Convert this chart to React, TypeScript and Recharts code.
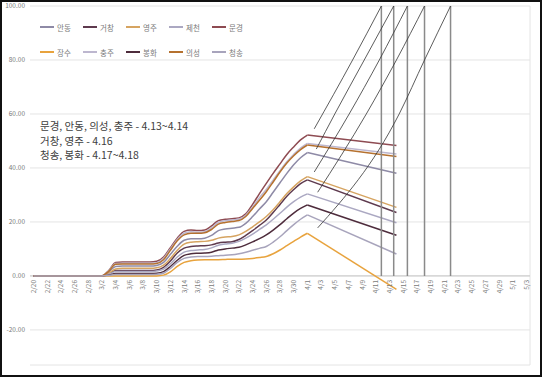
import React from 'react';
import { LineChart, Line, XAxis, YAxis, CartesianGrid, ReferenceLine } from 'recharts';

const DATES = [
  '2/20','2/21','2/22','2/23','2/24','2/25','2/26','2/27','2/28',
  '3/1','3/2','3/3','3/4','3/5','3/6','3/7','3/8','3/9','3/10','3/11','3/12','3/13','3/14','3/15','3/16','3/17','3/18','3/19','3/20','3/21','3/22','3/23','3/24','3/25','3/26','3/27','3/28','3/29','3/30','3/31',
  '4/1','4/2','4/3','4/4','4/5','4/6','4/7','4/8','4/9','4/10','4/11','4/12','4/13','4/14','4/15','4/16','4/17','4/18','4/19','4/20','4/21','4/22','4/23','4/24','4/25','4/26','4/27','4/28','4/29','4/30',
  '5/1','5/2','5/3'
];

const SERIES = ['안동', '거창', '영주', '제천', '문경', '장수', '충주', '봉화', '의성', '청송'];
const COLORS = ['#8E8AA6', '#5E3A4E', '#D6A461', '#ABA8C2', '#8E4B52', '#E8A33D', '#BDB7CF', '#4E2C3C', '#B5712F', '#A8A4BC'];

const Z = [0, 0, 0, 0, 0, 0, 0, 0, 0, 0, 0];
// values 2/20 .. 4/1
const ANDONG = [...Z, 1.5, 3.5, 3.7, 3.7, 3.7, 3.7, 3.7, 3.9, 5.0, 8.0, 11.0, 13.2, 13.8, 13.8, 14.0, 15.0, 16.8, 17.4, 17.7, 18.0, 19.5, 22.0, 24.8, 27.5, 31.0, 34.5, 38.0, 41.2, 43.8, 45.7];
const GEOCHANG = [...Z, 0.8, 2.0, 2.0, 2.0, 2.0, 2.0, 2.0, 2.2, 3.2, 5.5, 8.5, 10.3, 10.9, 11.1, 11.2, 11.5, 12.2, 12.5, 12.7, 13.5, 15.0, 16.8, 18.7, 20.7, 23.5, 26.5, 29.5, 32.0, 34.2, 35.6];
const YEONGJU = [...Z, 1.0, 2.6, 2.8, 2.8, 2.8, 2.8, 2.8, 3.0, 4.0, 6.5, 9.5, 11.8, 12.5, 12.7, 12.8, 13.2, 14.0, 14.4, 14.6, 15.2, 16.5, 18.2, 20.0, 22.0, 24.5, 27.5, 30.5, 33.0, 35.2, 36.8];
const JECHEON = [...Z, 0.6, 1.6, 1.6, 1.6, 1.6, 1.6, 1.6, 1.8, 2.5, 4.5, 7.0, 8.8, 9.4, 9.6, 9.8, 10.4, 11.4, 11.8, 12.1, 12.8, 14.0, 15.5, 17.2, 18.9, 21.0, 23.2, 25.5, 27.5, 29.2, 30.4];
const MUNGYEONG = [...Z, 2.0, 5.0, 5.2, 5.2, 5.2, 5.2, 5.2, 5.4, 7.0, 10.5, 14.0, 16.5, 17.0, 16.8, 17.0, 18.5, 20.5, 21.0, 21.2, 21.5, 23.0, 26.5, 30.5, 34.3, 38.0, 41.5, 45.0, 47.8, 50.4, 52.2];
const JANGSU = [...Z, 0, 0, 0, 0, 0, 0, 0, 0, 0.3, 1.5, 3.5, 5.0, 5.6, 5.9, 6.0, 6.0, 6.0, 6.1, 6.2, 6.2, 6.3, 6.5, 6.8, 7.2, 8.2, 9.6, 11.2, 12.8, 14.4, 15.8];
const CHUNGJU = [...Z, 2.0, 4.6, 4.7, 4.7, 4.7, 4.7, 4.7, 4.9, 6.5, 10.0, 13.5, 15.8, 16.4, 16.2, 16.4, 17.8, 19.8, 20.4, 20.7, 21.0, 22.5, 25.5, 29.0, 32.0, 35.5, 39.0, 42.3, 45.0, 47.4, 49.1];
const BONGHWA = [...Z, 0.3, 0.9, 0.9, 0.9, 0.9, 0.9, 0.9, 1.0, 1.6, 3.5, 5.8, 7.6, 8.2, 8.4, 8.5, 8.8, 9.6, 10.0, 10.3, 10.6, 11.5, 12.6, 13.8, 15.2, 17.0, 19.0, 21.2, 23.3, 25.0, 26.3];
const UISEONG = [...Z, 1.8, 4.3, 4.4, 4.4, 4.4, 4.4, 4.4, 4.6, 6.0, 9.5, 13.0, 15.2, 15.8, 15.8, 16.0, 17.2, 19.2, 19.8, 20.2, 20.5, 22.0, 25.0, 28.0, 31.2, 34.8, 38.5, 41.8, 44.5, 46.8, 48.5];
const CHEONGSONG = [...Z, 0.2, 0.5, 0.5, 0.5, 0.5, 0.5, 0.5, 0.6, 1.0, 2.8, 5.0, 6.5, 7.0, 7.2, 7.2, 7.3, 7.5, 7.7, 7.8, 8.2, 8.8, 9.5, 10.2, 10.9, 12.5, 14.5, 16.8, 19.0, 21.0, 22.6];
const VALUES = [ANDONG, GEOCHANG, YEONGJU, JECHEON, MUNGYEONG, JANGSU, CHUNGJU, BONGHWA, UISEONG, CHEONGSONG];

// straight projection from 4/1 to 4/14
const PEAK_DATE = '4/1';
const END_DATE = '4/14';
const END_VALUES = [38.0, 23.5, 25.4, 19.7, 48.3, -5.0, 45.2, 15.1, 44.2, 8.1];

// hand-drawn reach-100 curves: [day position, value]
const CURVE_1 = [[41.0, 54.5], [46.6, 80], [50.8, 100]];
const CURVE_2 = [[41.3, 47], [44.0, 60], [48.3, 80], [52.6, 100]];
const CURVE_3 = [[41.0, 38.5], [46.1, 60], [50.5, 80], [54.6, 100]];
const CURVE_4 = [[41.5, 31], [48.6, 60], [53.0, 80], [57.1, 100]];
const CURVE_5 = [[41.5, 17.8], [53.4, 60], [57.1, 80], [60.9, 100]];
const CURVES = [CURVE_1, CURVE_2, CURVE_3, CURVE_4, CURVE_5];
const TARGET_DAYS = [50.8, 52.6, 54.6, 57.1, 60.9];

const Y_TICKS = [-20, 0, 20, 40, 60, 80, 100];
const Y_MIN = -33;
const Y_MAX = 100;

const NOTES = ['문경, 안동, 의성, 충주 - 4.13~4.14', '거창, 영주 - 4.16', '청송, 봉화 - 4.17~4.18'];

const W = 542;
const H = 377;
const M = { top: 6, right: 12, left: 0, bottom: 11 };
const X_AXIS_H = 1;
const PLOT_H = H - M.top - M.bottom - X_AXIS_H;
const ZERO_Y = M.top + PLOT_H * (Y_MAX / (Y_MAX - Y_MIN));
const FONT = "'Noto Sans CJK KR', 'Noto Sans', sans-serif";

const peakIdx = DATES.indexOf(PEAK_DATE);
const endIdx = DATES.indexOf(END_DATE);

const rows = DATES.map((d, i) => {
  const r: any = { i };
  SERIES.forEach((s, k) => {
    r[s] = i <= peakIdx ? VALUES[k][i] : null;
    r[s + '_p'] = i === peakIdx ? VALUES[k][peakIdx] : i === endIdx ? END_VALUES[k] : null;
  });
  return r;
});

const xTicks = DATES.map((_, i) => i).filter((i) => i % 2 === 0);

const XTick = (props: any) => {
  const { x, payload } = props;
  const tx = x + 2.4;
  const ty = ZERO_Y + 4;
  return (
    <text x={tx} y={ty} transform={`rotate(-90, ${tx}, ${ty})`} textAnchor="end" fontSize={6.5} fill="#7a7a7a" fontFamily={FONT}>
      {DATES[payload.value]}
    </text>
  );
};

export default function App() {
  return (
    <div style={{ position: 'absolute', left: 0, top: 0, width: W, height: H, background: '#fff', fontFamily: FONT }}>
      <LineChart width={W} height={H} data={rows} margin={M}>
        <CartesianGrid horizontal vertical={false} stroke="#e4e4e4" />
        <XAxis
          dataKey="i"
          type="number"
          domain={[-0.5, DATES.length - 0.5]}
          ticks={xTicks}
          interval={0}
          tick={<XTick />}
          axisLine={false}
          tickLine={false}
          height={X_AXIS_H}
          allowDataOverflow
        />
        <YAxis
          width={30}
          domain={[Y_MIN, Y_MAX]}
          ticks={Y_TICKS}
          interval={0}
          tickFormatter={(v: number) => v.toFixed(2)}
          axisLine={false}
          tickLine={false}
          tickSize={3}
          tick={{ fontSize: 6.5, fill: '#7a7a7a', fontFamily: FONT }}
          allowDataOverflow
        />
        <ReferenceLine x={DATES.length - 0.5} stroke="#e4e4e4" />
        <ReferenceLine y={0} stroke="#c8c8c8" />
        {SERIES.map((s, k) => (
          <Line key={s} dataKey={s} type="monotone" stroke={COLORS[k]} strokeWidth={1.5} dot={false} isAnimationActive={false} />
        ))}
        {SERIES.map((s, k) => (
          <Line key={s + '_p'} dataKey={s + '_p'} type="linear" connectNulls stroke={COLORS[k]} strokeWidth={1.5} dot={false} isAnimationActive={false} />
        ))}
        {TARGET_DAYS.map((d, k) => (
          <ReferenceLine key={'v' + k} segment={[{ x: d, y: 0 }, { x: d, y: 100 }]} stroke="#8a8a8a" strokeWidth={1.5} />
        ))}
        {CURVES.map((c, k) => (
          <Line
            key={'c' + k}
            data={c.map(([i, v]) => ({ i, v }))}
            dataKey="v"
            type="monotone"
            stroke="#333"
            strokeWidth={0.8}
            dot={false}
            isAnimationActive={false}
          />
        ))}
      </LineChart>

      {SERIES.map((s, k) => {
        const row = Math.floor(k / 5);
        const col = k % 5;
        return (
          <div
            key={'lg' + s}
            style={{ position: 'absolute', left: 40 + col * 43, top: 27 + row * 25 - 5, height: 10, display: 'flex', alignItems: 'center', fontSize: 7.5, color: '#7a7a7a', whiteSpace: 'nowrap' }}
          >
            <span style={{ display: 'inline-block', width: 14, height: 2, background: COLORS[k], marginRight: 3 }} />
            {s}
          </div>
        );
      })}

      <div style={{ position: 'absolute', left: 40, top: 119, fontSize: 10.5, lineHeight: '14.5px', color: '#404040', whiteSpace: 'nowrap' }}>
        {NOTES.map((n) => (
          <div key={n}>{n}</div>
        ))}
      </div>

      <div style={{ position: 'absolute', left: 0, top: 0, width: W, height: H, border: '2px solid #111', boxSizing: 'border-box', pointerEvents: 'none' }} />
    </div>
  );
}
